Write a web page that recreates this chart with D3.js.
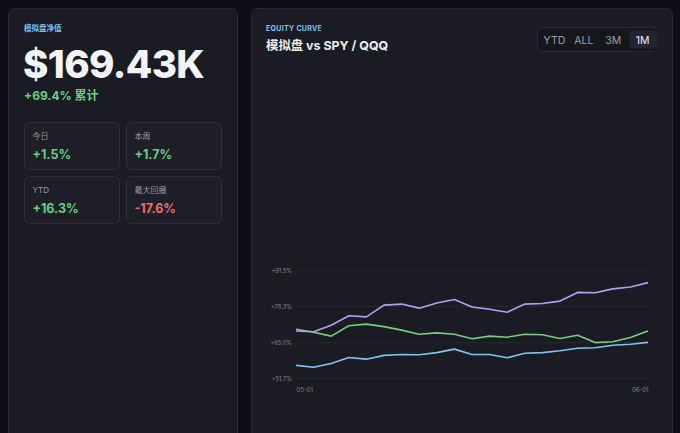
<!DOCTYPE html>
<html>
<head>
<meta charset="utf-8">
<script src="https://cdn.jsdelivr.net/npm/d3@7"></script>
<style>
  html, body { margin:0; padding:0; background:#0e0f16; }
  body { width:680px; height:433px; overflow:hidden; font-family: Inter, "Noto Sans CJK SC", sans-serif; }
</style>
</head>
<body>
<div id="chart-area"></div>
<script>
var width = 680, height = 433;

// headline numbers
var navLabel = "模拟盘净值";
var navValue = "$169.43K";
var navChange = "+69.4% 累计";
var statLabels = ["今日", "本周", "YTD", "最大回撤"];
var statValues = ["+1.5%", "+1.7%", "+16.3%", "-17.6%"];

// equity curve (cumulative %)
var dates = ["05-01","05-02","05-03","05-04","05-05","05-08","05-09","05-10","05-11","05-12",
             "05-15","05-16","05-17","05-18","05-19","05-22","05-23","05-24","05-25","05-26","06-01"];
var paper = [69.3,69.0,71.4,74.9,74.5,78.8,79.2,77.7,79.6,80.9,78.1,77.3,76.2,79.2,79.4,80.3,83.5,83.4,84.8,85.5,87.1];
var spy   = [69.9,68.8,67.4,71.2,71.8,70.9,69.6,68.1,68.6,68.1,66.4,67.4,67.0,68.1,67.9,66.5,67.7,65.0,65.3,66.9,69.3];
var qqq   = [56.6,55.9,57.3,59.5,58.9,60.3,60.6,60.5,61.3,62.6,60.6,60.6,59.4,61.1,61.3,62.0,62.9,63.1,64.0,64.4,65.1];
var yTicks = [51.7, 65.0, 78.3, 91.5];
var ranges = ["YTD", "ALL", "3M", "1M"];

var svg = d3.select("#chart-area")
  .append("svg")
    .attr("width", width)
    .attr("height", height);

// cards
svg.append("rect").attr("x", 8.5).attr("y", 8.5).attr("width", 229).attr("height", 440)
  .attr("rx", 7).attr("fill", "#1b1c23").attr("stroke", "#2a2b33");
svg.append("rect").attr("x", 251.5).attr("y", 8.5).attr("width", 421).attr("height", 440)
  .attr("rx", 7).attr("fill", "#1b1c23").attr("stroke", "#2a2b33");

// left card text
svg.append("text").attr("x", 24).attr("y", 31).attr("font-size", "7.5px").attr("font-weight", 600)
  .attr("fill", "#7cc3ee").text(navLabel);
svg.append("text").attr("x", 23).attr("y", 78).attr("font-size", "38.5px").attr("font-weight", 800)
  .attr("letter-spacing", "-0.6px").attr("fill", "#f3f4f7").text(navValue);
svg.append("text").attr("x", 24).attr("y", 100).attr("font-size", "12px").attr("font-weight", 700)
  .attr("fill", "#66cf85").text(navChange);

var boxes = svg.append("g").selectAll("g")
  .data(statLabels)
  .enter().append("g")
    .attr("transform", function(d, i){
      return "translate(" + (24.5 + (i % 2) * 102) + "," + (122.5 + Math.floor(i / 2) * 54) + ")";
    });
boxes.append("rect").attr("width", 95).attr("height", 47).attr("rx", 5)
  .attr("fill", "#1e1f27").attr("stroke", "#30313a");
boxes.append("text").attr("x", 8).attr("y", 16).attr("font-size", "8px").attr("fill", "#9a9ba4")
  .text(function(d){ return d; });
boxes.append("text").attr("x", 8).attr("y", 36).attr("font-size", "12.5px").attr("font-weight", 700)
  .attr("fill", function(d, i){ return statValues[i].charAt(0) === "-" ? "#ee6b74" : "#66cf85"; })
  .text(function(d, i){ return statValues[i]; });

// right card header
svg.append("text").attr("x", 266).attr("y", 30.5).attr("font-size", "7px").attr("font-weight", 700)
  .attr("letter-spacing", "0.3px").attr("fill", "#7cc3ee").text("EQUITY CURVE");
svg.append("text").attr("x", 266).attr("y", 50).attr("font-size", "12.4px").attr("font-weight", 700)
  .attr("fill", "#eceef2").text("模拟盘 vs SPY / QQQ");

// range toggle
var seg = svg.append("g").attr("transform", "translate(537.5,27.5)");
seg.append("rect").attr("width", 120).attr("height", 24).attr("rx", 5)
  .attr("fill", "#16171d").attr("stroke", "#2a2b33");
var segX = d3.scaleBand().domain(ranges).range([3, 119]).paddingInner(0.05);
seg.selectAll(".seg-bg").data(ranges.filter(function(d){ return d === "1M"; }))
  .enter().append("rect")
    .attr("x", function(d){ return segX(d) + 1; })
    .attr("y", 3).attr("width", segX.bandwidth() - 1).attr("height", 18).attr("rx", 4)
    .attr("fill", "#232631");
seg.selectAll(".seg-t").data(ranges)
  .enter().append("text")
    .attr("x", function(d){ return segX(d) + segX.bandwidth() / 2; })
    .attr("y", 16).attr("text-anchor", "middle").attr("font-size", "10.5px")
    .attr("fill", function(d){ return d === "1M" ? "#f0f1f4" : "#9d9ea6"; })
    .text(function(d){ return d; });

// plot
var x = d3.scalePoint().domain(dates).range([296, 648]);
var y = d3.scaleLinear().domain([51.7, 91.5]).range([378.7, 270.7]);

var grid = svg.append("g");
grid.selectAll("line").data(yTicks).enter().append("line")
  .attr("x1", 296).attr("x2", 648)
  .attr("y1", function(d){ return y(d); }).attr("y2", function(d){ return y(d); })
  .attr("stroke", "#262731").attr("stroke-width", 1);

var yAxis = d3.axisLeft(y).tickValues(yTicks).tickSize(0).tickPadding(4)
  .tickFormat(function(d){ return "+" + d.toFixed(1) + "%"; });
svg.append("g").attr("transform", "translate(296,0)").call(yAxis)
  .call(function(g){ g.select(".domain").remove(); })
  .selectAll("text").attr("font-size", "5.8px").attr("fill", "#868790")
  .attr("font-family", "Inter, sans-serif");

var xTicks = [dates[0], dates[dates.length - 1]];
var xAxis = d3.axisBottom(x).tickValues(xTicks).tickSize(0).tickPadding(8);
svg.append("g").attr("transform", "translate(0,380)").call(xAxis)
  .call(function(g){ g.select(".domain").remove(); })
  .selectAll("text").attr("font-size", "6px").attr("fill", "#868790")
  .attr("font-family", "Inter, sans-serif")
  .attr("text-anchor", function(d, i){ return i === 0 ? "start" : "end"; });

var line = d3.line()
  .x(function(d, i){ return x(dates[i]); })
  .y(function(d){ return y(d); });

var seriesList = [
  { name: "QQQ", values: qqq, color: "#7ec5ec" },
  { name: "SPY", values: spy, color: "#72cf82" },
  { name: "模拟盘", values: paper, color: "#b59ff0" }
];

svg.append("g").selectAll("path").data(seriesList).enter().append("path")
  .attr("d", function(d){ return line(d.values); })
  .attr("fill", "none")
  .attr("stroke", function(d){ return d.color; })
  .attr("stroke-width", 1.6)
  .attr("stroke-linejoin", "round");
</script>
</body>
</html>
